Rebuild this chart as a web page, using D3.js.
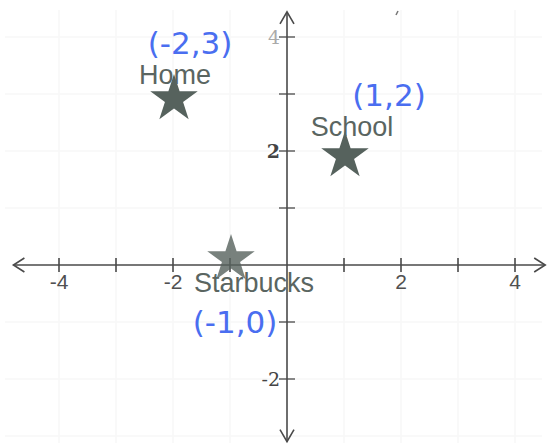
<!DOCTYPE html>
<html><head><meta charset="utf-8">
<script src="https://cdn.jsdelivr.net/npm/d3@7"></script>
<style>body{margin:0;background:#fff}svg{display:block}</style>
</head><body>
<script>
const places = ["Home", "School", "Starbucks"];
const xValues = [-2, 1, -1];
const yValues = [3, 2, 0];
const notes = ["(-2,3)", "(1,2)", "(-1,0)"];
const xTickValues = [-4, -3, -2, -1, 1, 2, 3, 4];
const xTickLabels = [-4, -2, 2, 4];
const yTickValues = [4, 3, 2, 1, -1, -2];
const yTickLabels = [4, 2, -2];
const gridValues = [-4, -3, -2, -1, 1, 2, 3, 4];

const W = 547, H = 448;
const svg = d3.select("body").append("svg").attr("width", W).attr("height", H);
const x = d3.scaleLinear().domain([-4, 4]).range([59, 515]);
const y = d3.scaleLinear().domain([-2, 4]).range([379, 37]);

// faint grid
const g = svg.append("g").attr("stroke", "#f7f7f7").attr("stroke-width", 1.5);
gridValues.forEach(v => {
  g.append("line").attr("x1", x(v)).attr("x2", x(v)).attr("y1", 10).attr("y2", H - 5);
});
[-3,-2,-1,1,2,3,4].forEach(v => {
  g.append("line").attr("x1", 5).attr("x2", W - 5).attr("y1", y(v)).attr("y2", y(v));
});

const axisColor = "#4a4a4a";
const ax = svg.append("g").attr("stroke", axisColor).attr("stroke-width", 1.6).attr("fill", "none");
// x axis
ax.append("line").attr("x1", x(-4.8)).attr("x2", x(4.53)).attr("y1", y(0)).attr("y2", y(0));
ax.append("path").attr("d", `M${x(-4.8)+11},${y(0)-7} L${x(-4.8)},${y(0)} L${x(-4.8)+11},${y(0)+7}`);
ax.append("path").attr("d", `M${x(4.53)-11},${y(0)-7} L${x(4.53)},${y(0)} L${x(4.53)-11},${y(0)+7}`);
// y axis
ax.append("line").attr("x1", x(0)).attr("x2", x(0)).attr("y1", y(4.44)).attr("y2", y(-3.1));
ax.append("path").attr("d", `M${x(0)-7},${y(4.44)+12} L${x(0)},${y(4.44)} L${x(0)+7},${y(4.44)+12}`);
ax.append("path").attr("d", `M${x(0)-7},${y(-3.1)-12} L${x(0)},${y(-3.1)} L${x(0)+7},${y(-3.1)-12}`);
// ticks
xTickValues.forEach(v => {
  ax.append("line").attr("x1", x(v)).attr("x2", x(v)).attr("y1", y(0) - 7).attr("y2", y(0) + 7);
});
yTickValues.forEach(v => {
  ax.append("line").attr("x1", x(0) - 8).attr("x2", x(0) + 8).attr("y1", y(v)).attr("y2", y(v)).attr("stroke-width", 1.3);
});

// tick labels
svg.append("g").selectAll("text").data(xTickLabels).join("text")
  .attr("x", d => x(d)).attr("y", y(0) + 24)
  .attr("text-anchor", "middle")
  .attr("font-family", "Liberation Sans, Arial, sans-serif").attr("font-size", 21)
  .attr("fill", "#505050").text(d => d < 0 ? "-" + Math.abs(d) : d);
svg.append("g").selectAll("text").data(yTickLabels).join("text")
  .attr("x", x(0) - 7).attr("y", d => y(d) + 7)
  .attr("text-anchor", "end")
  .attr("font-family", "DejaVu Serif, serif").attr("font-size", 19).attr("font-weight", d => d === 2 ? "bold" : "normal")
  .attr("fill", d => d === 4 ? "#aaa" : "#444").text(d => d < 0 ? "-" + Math.abs(d) : d);

// stars
const star = d3.symbol().type(d3.symbolStar).size(700);
const starColor = "#56625d";
const labelDy = [-10, -15, 27];
const labelDx = [2, 8, 24];
places.forEach((p, i) => {
  svg.append("path").attr("d", star)
    .attr("transform", `translate(${x(xValues[i])+1},${y(yValues[i]) + (i === 2 ? -6 : 5)})`)
    .attr("fill", starColor).attr("opacity", i === 2 ? 0.8 : 1);
  svg.append("text").attr("x", x(xValues[i]) + labelDx[i]).attr("y", y(yValues[i]) + labelDy[i])
    .attr("text-anchor", "middle")
    .attr("font-family", "Liberation Sans, Arial, sans-serif").attr("font-size", 27)
    .attr("fill", "#5a6561").text(p);
});

// handwritten annotations
const notePos = [[190, 54], [389, 106], [235, 333]];
notes.forEach((n, i) => {
  svg.append("text").attr("x", notePos[i][0]).attr("y", notePos[i][1])
    .attr("text-anchor", "middle")
    .attr("font-family", "DejaVu Sans, sans-serif").attr("font-size", 31)
    .attr("fill", "#4a6ef0").text(n);
});
// small stray mark
svg.append("line").attr("x1", 396).attr("y1", 15).attr("x2", 398).attr("y2", 11).attr("stroke", "#777").attr("stroke-width", 1.5);
</script>
</body></html>
